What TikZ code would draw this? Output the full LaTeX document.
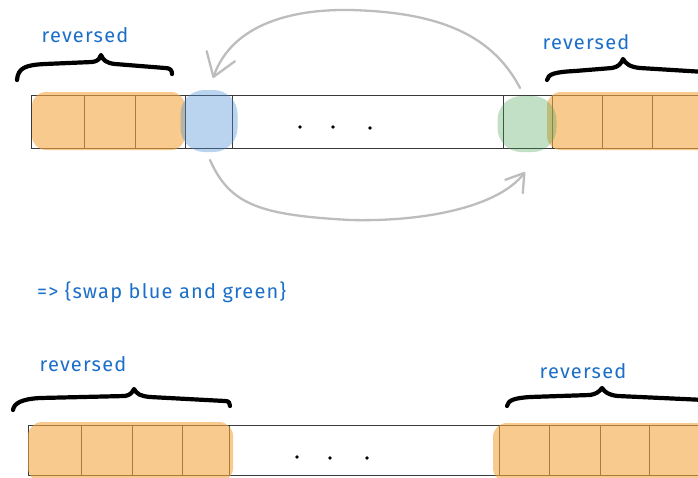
\documentclass[tikz,border=0pt]{standalone}
\usepackage{fontspec}
\setmainfont{Fira Sans}
\newfontfamily\lblfont[LetterSpace=6]{Fira Sans}
\usetikzlibrary{arrows.meta}
\definecolor{linec}{HTML}{3A3A3A}
\definecolor{orangeHL}{HTML}{F5A742}
\definecolor{blueHL}{HTML}{4A90D9}
\definecolor{greenHL}{HTML}{40A050}
\definecolor{arrowc}{HTML}{BDBDBD}
\definecolor{txtc}{HTML}{1C6FC8}
\tikzset{
  cell/.style={draw=linec, line width=0.9pt, minimum height=#1, inner sep=0pt, anchor=north west, outer sep=0pt},
  hl/.style={fill=orangeHL, fill opacity=0.6, rounded corners=14pt},
  blob/.style={inner sep=0pt, rounded corners=24pt, fill opacity=#1},
  dotmark/.style={circle, fill=black, inner sep=0pt, minimum size=3.6pt},
  bracestroke/.style={line width=4.2pt, line cap=round, line join=round, black},
  lbl/.style={text=txtc, font=\lblfont\fontsize{20}{22}\selectfont},
  swaparrow/.style={draw=arrowc, line width=2.3pt, line cap=round, line join=round},
}
\begin{document}
\begin{tikzpicture}[x=1pt, y=-1pt]
\useasboundingbox (0,0) rectangle (698,477);
\fill[white] (0,0) rectangle (698,477);
% ---- top row cells
\node[cell=53pt, minimum width=53pt] (t1) at (31,95) {};
\node[cell=53pt, minimum width=51pt] (t2) at (84,95) {};
\node[cell=53pt, minimum width=50pt] (t3) at (135,95) {};
\node[cell=53pt, minimum width=47pt] (tb) at (185,95) {};
\node[cell=53pt, minimum width=271pt] (tmid) at (232,95) {};
\node[cell=53pt, minimum width=49pt] (tg) at (503,95) {};
\node[cell=53pt, minimum width=50pt] (t5) at (552,95) {};
\node[cell=53pt, minimum width=50pt] (t6) at (602,95) {};
\node[cell=53pt, minimum width=60pt] (t7) at (652,95) {};
% ---- bottom row cells
\node[cell=50pt, minimum width=53pt] (b1) at (28,425) {};
\node[cell=50pt, minimum width=51pt] (b2) at (81,425) {};
\node[cell=50pt, minimum width=50pt] (b3) at (132,425) {};
\node[cell=50pt, minimum width=47pt] (b4) at (182,425) {};
\node[cell=50pt, minimum width=270pt] (bmid) at (229,425) {};
\node[cell=50pt, minimum width=50pt] (b5) at (499,425) {};
\node[cell=50pt, minimum width=51pt] (b6) at (549,425) {};
\node[cell=50pt, minimum width=49pt] (b7) at (600,425) {};
\node[cell=50pt, minimum width=60pt] (b8) at (649,425) {};
% ---- highlights
\fill[hl] (32,92) rectangle (185,150);
\fill[hl] (547,92) rectangle (720,150);
\fill[hl] (28,422) rectangle (233,482);
\fill[hl] (493,423) rectangle (720,482);
\node[blob=0.38, fill=blueHL, minimum width=57pt, minimum height=62pt] (bblob) at (209,121) {};
\node[blob=0.32, fill=greenHL, minimum width=59pt, minimum height=56pt] (gblob) at (527,124) {};
% ---- dots
\node[dotmark] (d1) at (300,127) {};
\node[dotmark] (d2) at (333,127) {};
\node[dotmark] (d3) at (370,128) {};
\node[dotmark] (d4) at (297,457) {};
\node[dotmark] (d5) at (330,458) {};
\node[dotmark] (d6) at (367,458) {};
% ---- braces
\draw[bracestroke] (17,80) .. controls (18,68) and (25,65) .. (45,64) -- (92,62)
  .. controls (99,61) and (100,58) .. (101,55) .. controls (103,60) and (106,63) .. (115,64)
  -- (165,68) .. controls (170,68) and (172,70) .. (172,74);
\draw[bracestroke] (547,80) .. controls (548,74) and (555,72) .. (575,71) -- (612,68)
  .. controls (618,67) and (621,64) .. (623,59) .. controls (626,64) and (630,67) .. (640,68)
  -- (705,72);
\draw[bracestroke] (13,410) .. controls (14,403) and (22,399) .. (40,398) -- (125,396)
  .. controls (130,395) and (132,393) .. (134,389) .. controls (137,394) and (140,396) .. (150,397)
  -- (225,401) .. controls (229,401) and (230,403) .. (230,406);
\draw[bracestroke] (507,406) .. controls (508,400) and (515,398) .. (530,397) -- (590,395)
  .. controls (596,394) and (599,392) .. (602,388) .. controls (605,392) and (608,395) .. (618,396)
  -- (705,400);
% ---- labels
\node[lbl] (l1) at (85,35) {reversed};
\node[lbl] (l2) at (586,42) {reversed};
\node[lbl] (l3) at (83,364) {reversed};
\node[lbl] (l4) at (583,371) {reversed};
\node[lbl, anchor=west, inner sep=0pt] (swap) at (37,292) {=> \{swap blue and green\}};
% ---- swap arrows
\coordinate (topS) at (520,88);
\coordinate (topE) at (213,78);
\coordinate (botS) at (210,160);
\coordinate (botE) at (525,172);
\draw[swaparrow, -{Straight Barb[length=22pt, width=30pt, line width=2.3pt, round]}]
  (topS) .. controls (490,30) and (430,12) .. (350,10)
  .. controls (290,9) and (232,25) .. (topE);
\draw[swaparrow, -{Straight Barb[length=17pt, width=22pt, line width=2.3pt, round]}]
  (botS) .. controls (230,205) and (260,215) .. (350,220)
  .. controls (430,222) and (500,205) .. (botE);
\end{tikzpicture}
\end{document}
